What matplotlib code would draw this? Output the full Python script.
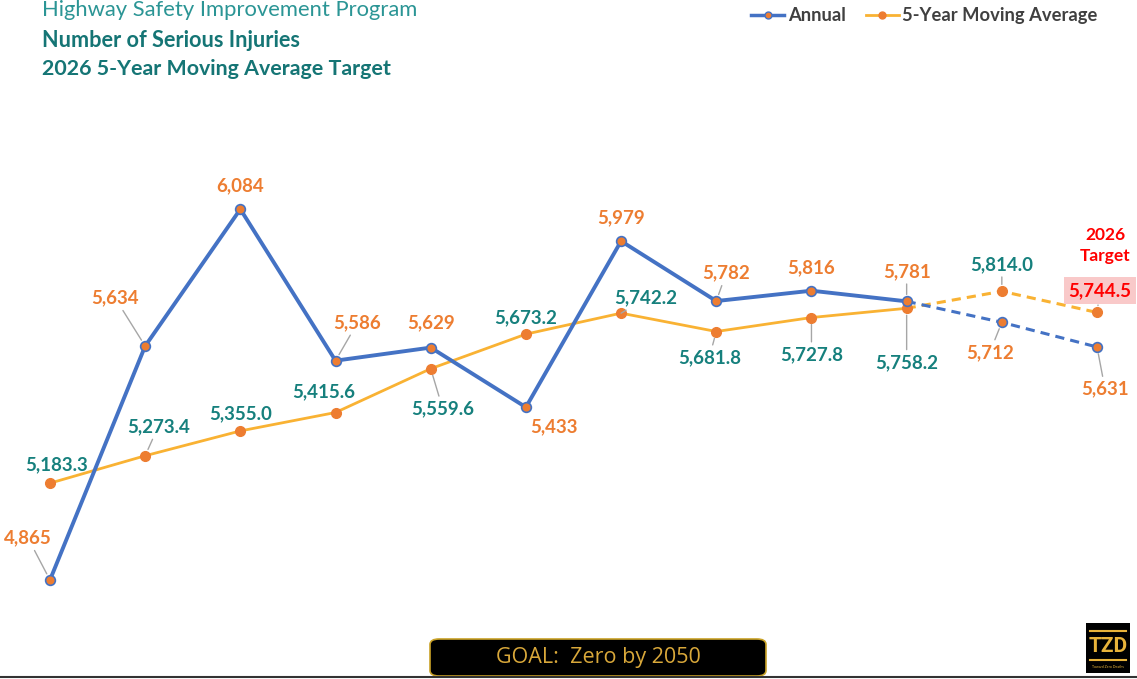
import numpy as np
import matplotlib
matplotlib.use("Agg")
import matplotlib.pyplot as plt
from matplotlib.patches import FancyBboxPatch, Rectangle
from matplotlib.lines import Line2D

plt.rcParams['font.family'] = ['Lato', 'DejaVu Sans']

# data
years = list(range(2015, 2027))
annual = [4865, 5634, 6084, 5586, 5629, 5433, 5979, 5782, 5816, 5781, 5712, 5631]
moving_avg = [5183.3, 5273.4, 5355.0, 5415.6, 5559.6, 5673.2, 5742.2, 5681.8,
              5727.8, 5758.2, 5814.0, 5744.5]
n_actual = 10  # last two are projections (dashed)

# label offsets in pixels (dx, dy) and whether a leader line is drawn
ann_off = [(-22, 42), (-30, 48), (0, 23), (22, 38), (0, 25), (28, -20),
           (0, 23), (10, 28), (0, 23), (0, 30), (-12, -30), (8, -42)]
ann_lead = [1, 1, 0, 1, 0, 0, 0, 1, 0, 1, 1, 1]
ma_off = [(7, 18), (13, 29), (0, 17), (-12, 21), (12, -40), (0, 16),
          (25, 15), (-7, -26), (0, -37), (0, -54), (0, 27), (3, 22)]
ma_lead = [0, 1, 0, 0, 1, 0, 1, 1, 1, 1, 1, 1]

BLUE = '#4472C4'
GOLD = '#F9B233'
ORANGE = '#ED7D31'
TEAL = '#16807D'
GREY = '#A6A6A6'

fig = plt.figure(figsize=(11.37, 6.79), dpi=100)
ax = fig.add_axes([0, 0.0719, 1, 0.784])
ax.set_xlim(-0.525, 11.42)
ax.set_ylim(4700, 6450)
ax.axis('off')

x = np.arange(len(years))
xa = x[:n_actual]
# solid part
ax.plot(xa, moving_avg[:n_actual], color=GOLD, lw=2, zorder=2)
ax.plot(xa, annual[:n_actual], color=BLUE, lw=2.8, zorder=3)
# dashed projection
xp = x[n_actual - 1:]
ax.plot(xp, moving_avg[n_actual - 1:], color=GOLD, lw=2.2, ls=(0, (3, 2)), zorder=2)
ax.plot(xp, annual[n_actual - 1:], color=BLUE, lw=2.2, ls=(0, (3, 2)), zorder=3)
# markers
ax.plot(x, moving_avg, 'o', ms=7, mfc=ORANGE, mec=ORANGE, zorder=4)
ax.plot(x, annual, 'o', ms=7, mfc=ORANGE, mec=BLUE, mew=1.2, zorder=5)


def label(xi, v, txt, off, lead, color, **kw):
    ap = None
    if lead:
        ap = dict(arrowstyle='-', color=GREY, lw=1, shrinkA=1, shrinkB=5)
    ax.annotate(txt, (xi, v), xytext=off, textcoords='offset pixels',
                ha='center', va='center', fontsize=13.5, fontweight='bold',
                color=color, arrowprops=ap, zorder=6, **kw)


for i in range(len(years)):
    label(x[i], annual[i], f"{annual[i]:,}", ann_off[i], ann_lead[i], ORANGE)
for i in range(len(years) - 1):
    label(x[i], moving_avg[i], f"{moving_avg[i]:,.1f}", ma_off[i], ma_lead[i], TEAL)
i = len(years) - 1
label(x[i], moving_avg[i], f"{moving_avg[i]:,.1f}", ma_off[i], ma_lead[i], '#FF0000',
      bbox=dict(boxstyle='square,pad=0.25', fc='#F9C9C9', ec='none'))
ax.annotate("2026\nTarget", (x[i], moving_avg[i]), xytext=(8, 67),
            textcoords='offset pixels', ha='center', va='center', fontsize=12.5,
            fontweight='bold', color='#FF0000', linespacing=1.45)

# titles
fig.text(0.037, 0.985, "Highway Safety Improvement Program", fontsize=15.8,
         color='#2B9595', va='center')
fig.text(0.037, 0.941, "Number of Serious Injuries", fontsize=15.6,
         fontweight='bold', color='#157575', va='center')
fig.text(0.037, 0.899, "2026 5-Year Moving Average Target", fontsize=15.4,
         fontweight='bold', color='#157575', va='center')

# legend
handles = [Line2D([], [], color=BLUE, lw=2.5, marker='o', ms=5, mfc=ORANGE, mec=BLUE),
           Line2D([], [], color=GOLD, lw=2, marker='o', ms=5, mfc=ORANGE, mec=ORANGE)]
leg = fig.legend(handles, ["Annual", "5-Year Moving Average"], loc='center right',
                 bbox_to_anchor=(0.98, 0.977), ncol=2, frameon=False,
                 fontsize=13.2, handlelength=1.8, handletextpad=0.2, columnspacing=1.1)
for t in leg.get_texts():
    t.set_color('#404040')
    t.set_fontweight('bold')

# goal box
W, H = 1137, 679
fig.patches.append(FancyBboxPatch((430 / W, 3 / H), 336 / W, 37 / H,
                                  boxstyle='round,pad=0,rounding_size=0.008',
                                  transform=fig.transFigure, fc='black',
                                  ec='#C9A227', lw=1.2))
fig.text(598 / W, 21 / H, "GOAL:  Zero by 2050", fontsize=15.5, color='#D9A83A',
         ha='center', va='center', family=['Open Sans', 'DejaVu Sans'])

# TZD logo
fig.patches.append(Rectangle((1086 / W, 6 / H), 44 / W, 50 / H,
                             transform=fig.transFigure, fc='black', ec='none'))
fig.text(1108 / W, 33 / H, "TZD", fontsize=15, fontweight='bold', color='#E8B33A',
         ha='center', va='center', family=['Roboto', 'DejaVu Sans'])
for yy in (48, 19):
    fig.lines.append(Line2D([1090 / W, 1126 / W], [yy / H, yy / H],
                            transform=fig.transFigure, color='#E8B33A', lw=1.5))
fig.text(1108 / W, 12 / H, "Toward Zero Deaths", fontsize=2.5, color='#E8B33A',
         ha='center', va='center')

# bottom rule
fig.lines.append(Line2D([0, 1], [2.5 / H, 2.5 / H], transform=fig.transFigure,
                        color='#333333', lw=1.5))

fig.savefig("out.png", dpi=100)
